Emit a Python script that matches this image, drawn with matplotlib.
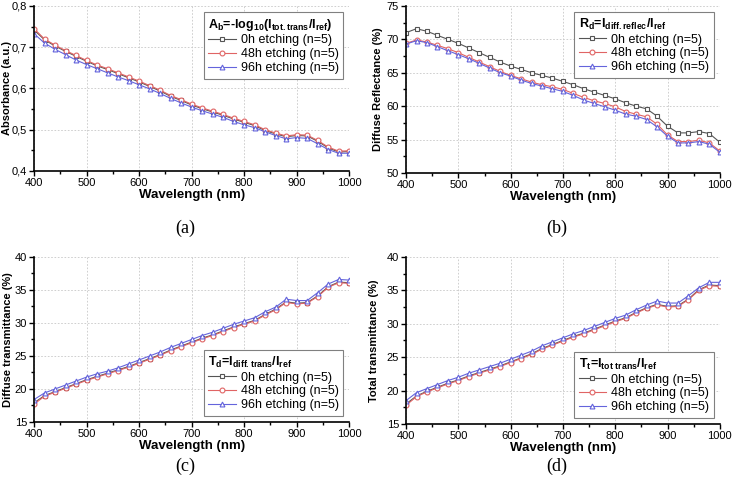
import numpy as np
import matplotlib
matplotlib.use("Agg")
import matplotlib.pyplot as plt
from matplotlib.ticker import MultipleLocator, FuncFormatter

plt.rcParams['font.family'] = ['Liberation Sans', 'DejaVu Sans']
plt.rcParams['mathtext.default'] = 'regular'

# longueurs d'onde (nm)
wl = np.arange(400, 1001, 20)

# (a) absorbance
abs_0h = [0.742, 0.718, 0.703, 0.690, 0.678, 0.666, 0.655, 0.646, 0.636, 0.626, 0.616, 0.605, 0.594, 0.581, 0.571, 0.560, 0.551, 0.543, 0.535, 0.526, 0.518, 0.510, 0.498, 0.490, 0.483, 0.486, 0.485, 0.472, 0.456, 0.446, 0.447]
abs_48h = [0.745, 0.720, 0.705, 0.692, 0.680, 0.668, 0.657, 0.648, 0.638, 0.628, 0.618, 0.607, 0.596, 0.583, 0.573, 0.562, 0.553, 0.545, 0.537, 0.528, 0.520, 0.512, 0.500, 0.492, 0.485, 0.488, 0.487, 0.474, 0.458, 0.448, 0.449]
abs_96h = [0.733, 0.710, 0.695, 0.682, 0.669, 0.658, 0.648, 0.638, 0.628, 0.619, 0.609, 0.599, 0.588, 0.576, 0.565, 0.555, 0.546, 0.538, 0.530, 0.520, 0.512, 0.505, 0.495, 0.486, 0.478, 0.481, 0.479, 0.466, 0.452, 0.443, 0.443]

# (b) reflectance diffuse (%)
rd_0h = [71.0, 71.6, 71.2, 70.6, 70.0, 69.4, 68.7, 68.0, 67.3, 66.6, 66.0, 65.5, 65.0, 64.6, 64.2, 63.7, 63.2, 62.6, 62.1, 61.6, 61.1, 60.5, 60.0, 59.6, 58.5, 57.0, 56.0, 56.0, 56.2, 55.9, 54.6]
rd_48h = [69.4, 69.9, 69.6, 69.1, 68.6, 68.0, 67.3, 66.6, 65.9, 65.2, 64.6, 64.1, 63.6, 63.2, 62.9, 62.5, 61.9, 61.3, 60.8, 60.4, 59.9, 59.2, 58.8, 58.4, 57.3, 55.7, 54.7, 54.7, 54.9, 54.5, 53.3]
rd_96h = [69.3, 69.8, 69.5, 68.9, 68.3, 67.7, 67.1, 66.4, 65.7, 65.0, 64.5, 63.9, 63.4, 63.0, 62.6, 62.2, 61.6, 60.9, 60.4, 59.9, 59.4, 58.8, 58.5, 58.0, 56.9, 55.5, 54.5, 54.5, 54.7, 54.3, 53.1]

# (c) transmittance diffuse (%)
td_0h = [17.9, 19.0, 19.6, 20.2, 20.8, 21.4, 21.9, 22.4, 22.9, 23.4, 24.0, 24.6, 25.2, 25.9, 26.5, 27.1, 27.7, 28.2, 28.8, 29.4, 29.9, 30.4, 31.3, 32.1, 33.2, 33.0, 33.1, 34.1, 35.5, 36.2, 36.1]
td_48h = [17.7, 18.9, 19.5, 20.1, 20.7, 21.3, 21.8, 22.3, 22.8, 23.3, 23.9, 24.5, 25.1, 25.8, 26.4, 27.0, 27.6, 28.1, 28.7, 29.3, 29.8, 30.3, 31.2, 32.0, 33.1, 32.9, 33.0, 34.0, 35.4, 36.1, 36.0]
td_96h = [18.4, 19.4, 20.0, 20.6, 21.2, 21.8, 22.3, 22.7, 23.2, 23.8, 24.4, 25.0, 25.6, 26.3, 26.9, 27.5, 28.1, 28.6, 29.2, 29.8, 30.3, 30.8, 31.7, 32.4, 33.6, 33.4, 33.4, 34.6, 35.9, 36.6, 36.5]

# (d) transmittance totale (%)
tt_0h = [18.0, 19.2, 19.9, 20.5, 21.1, 21.6, 22.2, 22.7, 23.2, 23.7, 24.3, 24.9, 25.5, 26.3, 26.9, 27.5, 28.1, 28.6, 29.2, 29.8, 30.4, 30.9, 31.7, 32.4, 32.9, 32.6, 32.7, 33.7, 35.1, 35.8, 35.7]
tt_48h = [17.8, 19.1, 19.8, 20.4, 21.0, 21.5, 22.1, 22.6, 23.1, 23.6, 24.2, 24.8, 25.4, 26.2, 26.8, 27.4, 28.0, 28.5, 29.1, 29.7, 30.3, 30.8, 31.6, 32.3, 32.8, 32.5, 32.6, 33.6, 35.0, 35.7, 35.6]
tt_96h = [18.5, 19.7, 20.3, 20.9, 21.5, 22.0, 22.6, 23.1, 23.6, 24.1, 24.7, 25.3, 25.9, 26.7, 27.3, 27.9, 28.5, 29.0, 29.6, 30.2, 30.8, 31.3, 32.1, 32.8, 33.4, 33.1, 33.1, 34.2, 35.4, 36.2, 36.2]

labels = ['0h etching (n=5)', '48h etching (n=5)', '96h etching (n=5)']
colors = ['#555555', '#e06464', '#6464dc']
markers = ['s', 'o', '^']

panels = [
    dict(pos=[0.0464, 0.6489, 0.430, 0.3388], data=[abs_0h, abs_48h, abs_96h],
         ylim=(0.4, 0.8), major=0.1, minor=0.05, ylabel='Absorbance (a.u.)', labx=-0.070,
         title=r'A$_b$=-log$_{10}$(I$_{tot.trans}$/I$_{ref}$)', loc='upper right',
         fmt=lambda v, p: ('%.1f' % v).replace('.', ','), tag='(a)', tagy=228),
    dict(pos=[0.554, 0.6448, 0.428, 0.343], data=[rd_0h, rd_48h, rd_96h],
         ylim=(50, 75), major=5, minor=2.5, ylabel='Diffuse Reflectance (%)', labx=-0.074,
         title=r'R$_d$=I$_{diff.reflec}$/I$_{ref}$', loc='upper right',
         fmt=lambda v, p: '%d' % v, tag='(b)', tagy=228),
    dict(pos=[0.0464, 0.1335, 0.430, 0.3388], data=[td_0h, td_48h, td_96h],
         ylim=(15, 40), major=5, minor=2.5, ylabel='Diffuse transmittance (%)', labx=-0.068,
         title=r'T$_d$=I$_{diff.trans}$/I$_{ref}$', loc='lower right',
         fmt=lambda v, p: '%d' % v, tag='(c)', tagy=466),
    dict(pos=[0.554, 0.1294, 0.428, 0.343], data=[tt_0h, tt_48h, tt_96h],
         ylim=(15, 40), major=5, minor=2.5, ylabel='Total transmittance (%)', labx=-0.085,
         title=r'T$_t$=I$_{tot\ trans}$/I$_{ref}$', loc='lower right',
         fmt=lambda v, p: '%d' % v, tag='(d)', tagy=466),
]

fig = plt.figure(figsize=(7.33, 4.87), dpi=100)

for pn in panels:
    ax = fig.add_axes(pn['pos'])
    for serie, lab, c, m in zip(pn['data'], labels, colors, markers):
        ax.plot(wl, serie, '-', color=c, marker=m, markersize=3.5, markerfacecolor='white',
                markeredgewidth=0.8, linewidth=0.8, label=lab)
    ax.set_xlim(400, 1000)
    ax.set_ylim(*pn['ylim'])
    ax.xaxis.set_major_locator(MultipleLocator(100))
    ax.xaxis.set_minor_locator(MultipleLocator(50))
    ax.yaxis.set_major_locator(MultipleLocator(pn['major']))
    ax.yaxis.set_minor_locator(MultipleLocator(pn['minor']))
    ax.yaxis.set_major_formatter(FuncFormatter(pn['fmt']))
    ax.grid(True, which='major', color='#c8c8c8', linestyle=(0, (2, 2)), linewidth=0.6)
    ax.spines['top'].set_visible(False)
    ax.spines['right'].set_visible(False)
    ax.spines['left'].set_linewidth(1.2)
    ax.spines['bottom'].set_linewidth(1.2)
    ax.tick_params(which='major', direction='out', length=3.5, width=1, labelsize=8, pad=1.5)
    ax.tick_params(which='minor', direction='out', length=2, width=1)
    ax.set_xlabel('Wavelength (nm)', fontsize=9.5, fontweight='bold', labelpad=1)
    ax.set_ylabel(pn['ylabel'], fontsize=8, fontweight='bold')
    ax.yaxis.set_label_coords(pn['labx'], 0.5)
    leg = ax.legend(loc=pn['loc'], fontsize=9, title=pn['title'], alignment='left',
                    fancybox=False, edgecolor='#808080', framealpha=1,
                    handlelength=2.2, handletextpad=0.4, borderaxespad=0.5,
                    labelspacing=0.15, borderpad=0.35)
    leg.get_title().set_fontweight('bold')
    leg.get_title().set_fontsize(9)
    leg.get_frame().set_linewidth(0.8)
    x0, _, w, _ = pn['pos']
    fig.text(x0 + w / 2 - 0.008, 1 - pn['tagy'] / 487, pn['tag'], ha='center', va='center',
             fontsize=13, family='Liberation Serif')

fig.savefig('out.png', dpi=100)
